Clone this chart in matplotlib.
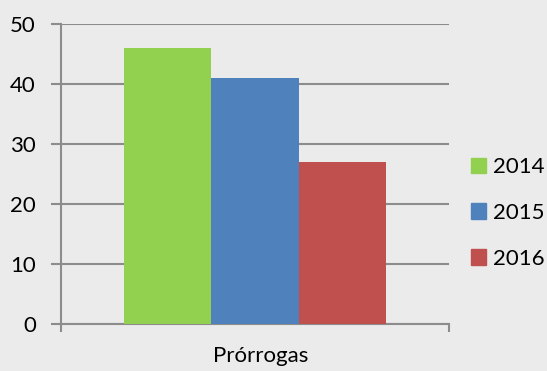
import matplotlib
matplotlib.use("Agg")
import matplotlib.pyplot as plt
from matplotlib.patches import Patch

categories = ["Prórrogas"]
years = ["2014", "2015", "2016"]
values = [46, 41, 27]
colors = ["#92D050", "#4F81BD", "#C0504D"]
yticks = [0, 10, 20, 30, 40, 50]

bg = "#EBEBEB"
gc = "#8C8C8C"
plt.rcParams['font.family'] = ['Lato', 'DejaVu Sans']
fs = 16

fig = plt.figure(figsize=(5.47, 3.71), dpi=100, facecolor=bg)
ax = fig.add_axes([61/547, 1-324/371, (449-61)/547, 300/371])
ax.set_facecolor(bg)

w = 0.2245
for i, (y, v, c) in enumerate(zip(years, values, colors)):
    ax.bar((i-1)*w, v, width=w, color=c, zorder=3, label=y)

ax.set_xlim(-0.5, 0.5)
ax.set_ylim(0, 50)
ax.set_yticks(yticks)
ax.set_yticklabels([str(t) for t in yticks], fontsize=fs, color="#000000")
ax.yaxis.grid(True, color=gc, linewidth=1.5, zorder=0)
ax.set_xticks([-0.5, 0.5])
ax.set_xticklabels(["", ""])
ax.tick_params(axis='y', length=7, width=1.5, color=gc, pad=11)
ax.tick_params(axis='x', length=6, width=1.5, color=gc)
ax.text(0.515, -0.075, categories[0], transform=ax.transAxes, ha='center', va='top', fontsize=fs)
for s in ['top', 'right']:
    ax.spines[s].set_visible(False)
for s in ['left', 'bottom']:
    ax.spines[s].set_color(gc)
    ax.spines[s].set_linewidth(1.5)

handles = [Patch(color=c, label=y) for y, c in zip(years, colors)]
leg = fig.legend(handles=handles, loc='center left', bbox_to_anchor=(462/547, 1-213/371),
                 frameon=False, fontsize=fs, handlelength=0.7, handleheight=0.7,
                 handletextpad=0.3, labelspacing=1.15, borderaxespad=0)

fig.savefig("out.png", dpi=100, facecolor=bg)
